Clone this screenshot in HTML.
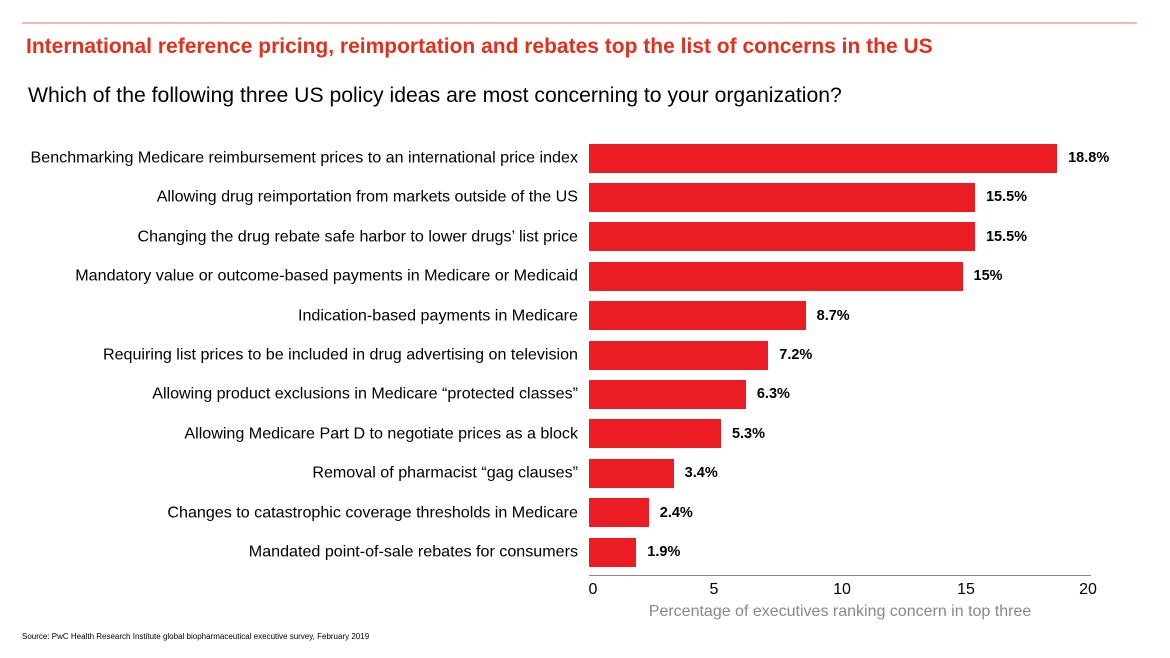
<!DOCTYPE html>
<html><head><meta charset="utf-8"><style>
body{margin:0;background:#fff;width:1170px;height:658px;overflow:hidden;font-family:"Liberation Sans",Arial,sans-serif;position:relative}
.a{position:absolute;white-space:nowrap}
.lab{position:absolute;right:592px;font-size:16.1px;color:#000;transform:translateY(-50%)}
.bar{position:absolute;left:589px;height:29px;background:#eb1c24}
.val{position:absolute;font-size:14.5px;font-weight:bold;transform:translateY(-50%)}
.tk{position:absolute;top:581px;font-size:16px;transform:translateX(-50%)}
</style></head><body>
<div class="a" style="left:22px;top:22px;width:1115px;height:2px;background:#f6b8b2"></div>
<div class="a" style="left:26px;top:35px;font-size:21px;font-weight:bold;color:#e0301e">International reference pricing, reimportation and rebates top the list of concerns in the US</div>
<div class="a" style="left:28px;top:84px;font-size:21.2px;color:#000">Which of the following three US policy ideas are most concerning to your organization?</div>
<div id="c"></div>
<div class="a" style="left:589px;top:575px;width:502px;height:1px;background:#888"></div>
<div class="tk" style="left:593px">0</div>
<div class="tk" style="left:714px">5</div>
<div class="tk" style="left:842px">10</div>
<div class="tk" style="left:966px">15</div>
<div class="tk" style="left:1088px">20</div>
<div class="a" style="left:840px;top:603px;font-size:16px;color:#888;transform:translateX(-50%)">Percentage of executives ranking concern in top three</div>
<div class="a" style="left:22px;top:632px;font-size:8px;color:#000">Source: PwC Health Research Institute global biopharmaceutical executive survey, February 2019</div>
<script>
var d=[["Benchmarking Medicare reimbursement prices to an international price index",18.8,"18.8%"],
["Allowing drug reimportation from markets outside of the US",15.5,"15.5%"],
["Changing the drug rebate safe harbor to lower drugs’ list price",15.5,"15.5%"],
["Mandatory value or outcome-based payments in Medicare or Medicaid",15,"15%"],
["Indication-based payments in Medicare",8.7,"8.7%"],
["Requiring list prices to be included in drug advertising on television",7.2,"7.2%"],
["Allowing product exclusions in Medicare “protected classes”",6.3,"6.3%"],
["Allowing Medicare Part D to negotiate prices as a block",5.3,"5.3%"],
["Removal of pharmacist “gag clauses”",3.4,"3.4%"],
["Changes to catastrophic coverage thresholds in Medicare",2.4,"2.4%"],
["Mandated point-of-sale rebates for consumers",1.9,"1.9%"]];
var h="";d.forEach(function(r,i){var cy=158+i*39.4;var w=r[1]*24.9;
h+='<div class="lab" style="top:'+cy+'px">'+r[0]+'</div>';
h+='<div class="bar" style="top:'+(cy-14.5)+'px;width:'+w+'px"></div>';
h+='<div class="val" style="top:'+cy+'px;left:'+(589+w+11)+'px">'+r[2]+'</div>';});
document.getElementById("c").innerHTML=h;
</script>
</body></html>
